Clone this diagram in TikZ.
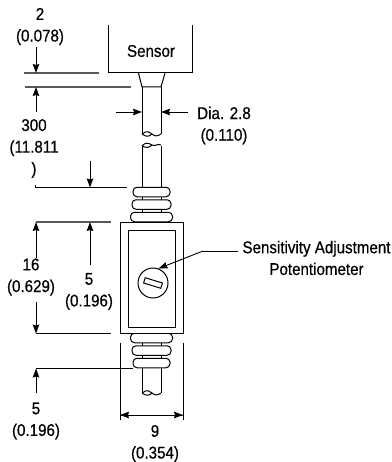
\documentclass[tikz,border=0pt]{standalone}
\usepackage{fontspec}
\setmainfont[FakeStretch=0.89,FakeBold=0.5]{Liberation Sans}
\usetikzlibrary{arrows.meta,calc}
\tikzset{
  lbl/.style={inner sep=0pt, align=center, font=\fontsize{17}{21.7}\selectfont},
  connect/.style={-{Stealth[length=9pt,width=6.5pt,inset=1pt]}, line width=0.9pt},
  ext/.style={line width=0.9pt},
  extgray/.style={line width=1.1pt, draw=black!65},
  part/.style={line width=1pt},
  ring/.style={rectangle, draw, line width=1pt, rounded corners=4pt, fill=white, minimum height=9.5pt, inner sep=0pt},
  box/.style={rectangle, draw, line width=1pt, inner sep=0pt}
}
\begin{document}
\begin{tikzpicture}[x=1pt,y=-1pt]
    \useasboundingbox (0,0) rectangle (391,462);

    % sensor and neck
    \node[lbl] (Sensor) at (151,51) {Sensor};
    \coordinate (SensorTL) at (108,25);
    \coordinate (SensorBL) at (108,73);
    \coordinate (SensorBR) at (192,73);
    \coordinate (SensorTR) at (192,25);
    \draw[part] (SensorTL) -- (SensorBL) -- (SensorBR) -- (SensorTR);
    \draw[part] (138.5,73) -- (142,87) -- (161,87) -- (165,73);

    % cable, upper piece
    \draw[part] (142,87) -- (142,134) (161,87) -- (161,134);
    \draw[part] (142,134) .. controls (147,130) and (150,132) .. (152,134)
                .. controls (155,137) and (158,136) .. (161,134);
    \draw[part] (142,134) .. controls (146,137) and (149,137) .. (152,134);

    % cable, middle piece
    \draw[part] (142,146) -- (142,192) (161,146) -- (161,192);
    \draw[part] (142,146) .. controls (145,142) and (149,143) .. (152,145)
                .. controls (155,147) and (158,143) .. (161,145);
    \draw[part] (142,146) .. controls (146,148) and (149,148) .. (152,145);
    \draw[part] (142,192) -- (142,217) (161,192) -- (161,217);

    % cable, lower piece
    \draw[part] (142,338) -- (142,393) (161,338) -- (161,393);
    \draw[part] (142,393) .. controls (147,389) and (150,391) .. (152,393)
                .. controls (155,396) and (158,395) .. (161,393);
    \draw[part] (142,393) .. controls (146,396) and (149,396) .. (152,393);

    % strain relief rings
    \node[ring, minimum width=37pt] (RingA) at (151.5,192) {};
    \node[ring, minimum width=39pt] (RingB) at (151.5,204.5) {};
    \node[ring, minimum width=42pt] (RingC) at (151.5,217) {};
    \node[ring, minimum width=42pt] (RingD) at (151.5,338) {};
    \node[ring, minimum width=39pt] (RingE) at (151.5,350.5) {};
    \node[ring, minimum width=37pt] (RingF) at (151.5,363) {};

    % housing and potentiometer
    \node[box, fill=white, minimum width=63pt, minimum height=111pt] (Body) at (151.5,277.5) {};
    \node[box, minimum width=47pt, minimum height=97pt] (Window) at (151.5,278.5) {};
    \node[box, circle, minimum size=30pt] (Pot) at (153,283) {};
    \node[box, minimum width=18pt, minimum height=5.5pt, rotate=-17] (Slot) at (153,283) {};

    % 2 (0.078)
    \node[lbl] (DimGap) at (40,26.5) {2\\(0.078)};
    \coordinate (GapTop) at (36,47);
    \coordinate (GapA) at (36,73);
    \coordinate (GapB) at (36,87);
    \coordinate (GapBot) at (36,112);
    \draw[extgray] (24,73) -- (99,73);
    \draw[extgray] (25,87) -- (131,87);
    \draw[connect] (GapTop) -- (GapA);
    \draw[connect] (GapBot) -- (GapB);

    % 300 (11.811)
    \node[lbl] (DimCable) at (34,148.5) {300\\(11.811\\)};
    \coordinate (CableTop) at (90,161);
    \coordinate (CableEnd) at (90,187.5);
    \draw[ext] (35.5,185) -- (35.5,187.5) -- (127,187.5);
    \draw[connect] (CableTop) -- (CableEnd);

    % Dia. 2.8 (0.110)
    \node[lbl] (DimDia) at (224,125.5) {Dia. 2.8\\(0.110)};
    \coordinate (DiaL) at (116,112);
    \coordinate (DiaLE) at (142,112);
    \coordinate (DiaR) at (188,112);
    \coordinate (DiaRE) at (161,112);
    \draw[connect] (DiaL) -- (DiaLE);
    \draw[connect] (DiaR) -- (DiaRE);

    % 16 (0.629)
    \node[lbl] (DimLen) at (31,277) {16\\(0.629)};
    \coordinate (LenTop) at (36,222);
    \coordinate (LenBot) at (36,333.5);
    \draw[extgray] (36,222) -- (111,222);
    \draw[ext] (36,333.5) -- (111,333.5);
    \draw[connect] (36,258) -- (LenTop);
    \draw[connect] (36,302) -- (LenBot);

    % 5 (0.196), upper
    \node[lbl] (DimUp) at (89,291.5) {5\\(0.196)};
    \coordinate (UpEnd) at (90,222);
    \draw[connect] (90,265) -- (UpEnd);

    % 5 (0.196), lower
    \node[lbl] (DimLow) at (36,421) {5\\(0.196)};
    \coordinate (LowEnd) at (36,368.5);
    \draw[ext] (LowEnd) -- (133,368.5);
    \draw[connect] (36,393) -- (LowEnd);

    % 9 (0.354)
    \node[lbl] (DimWid) at (155,443.5) {9\\(0.354)};
    \coordinate (WidL) at (120,415);
    \coordinate (WidR) at (183,415);
    \draw[ext] (120,343) -- (120,420);
    \draw[ext] (183,343) -- (183,420);
    \draw[connect] (WidR) -- (WidL);
    \draw[connect] (WidL) -- (WidR);

    % pot label and leader
    \node[lbl] (PotLabel) at (316.5,258) {Sensitivity Adjustment\\Potentiometer};
    \coordinate (LeadEnd) at (238,251);
    \coordinate (LeadKnee) at (203,251);
    \draw[ext] (LeadEnd) -- (LeadKnee);
    \draw[connect] (LeadKnee) -- (Pot.69);
\end{tikzpicture}
\end{document}
